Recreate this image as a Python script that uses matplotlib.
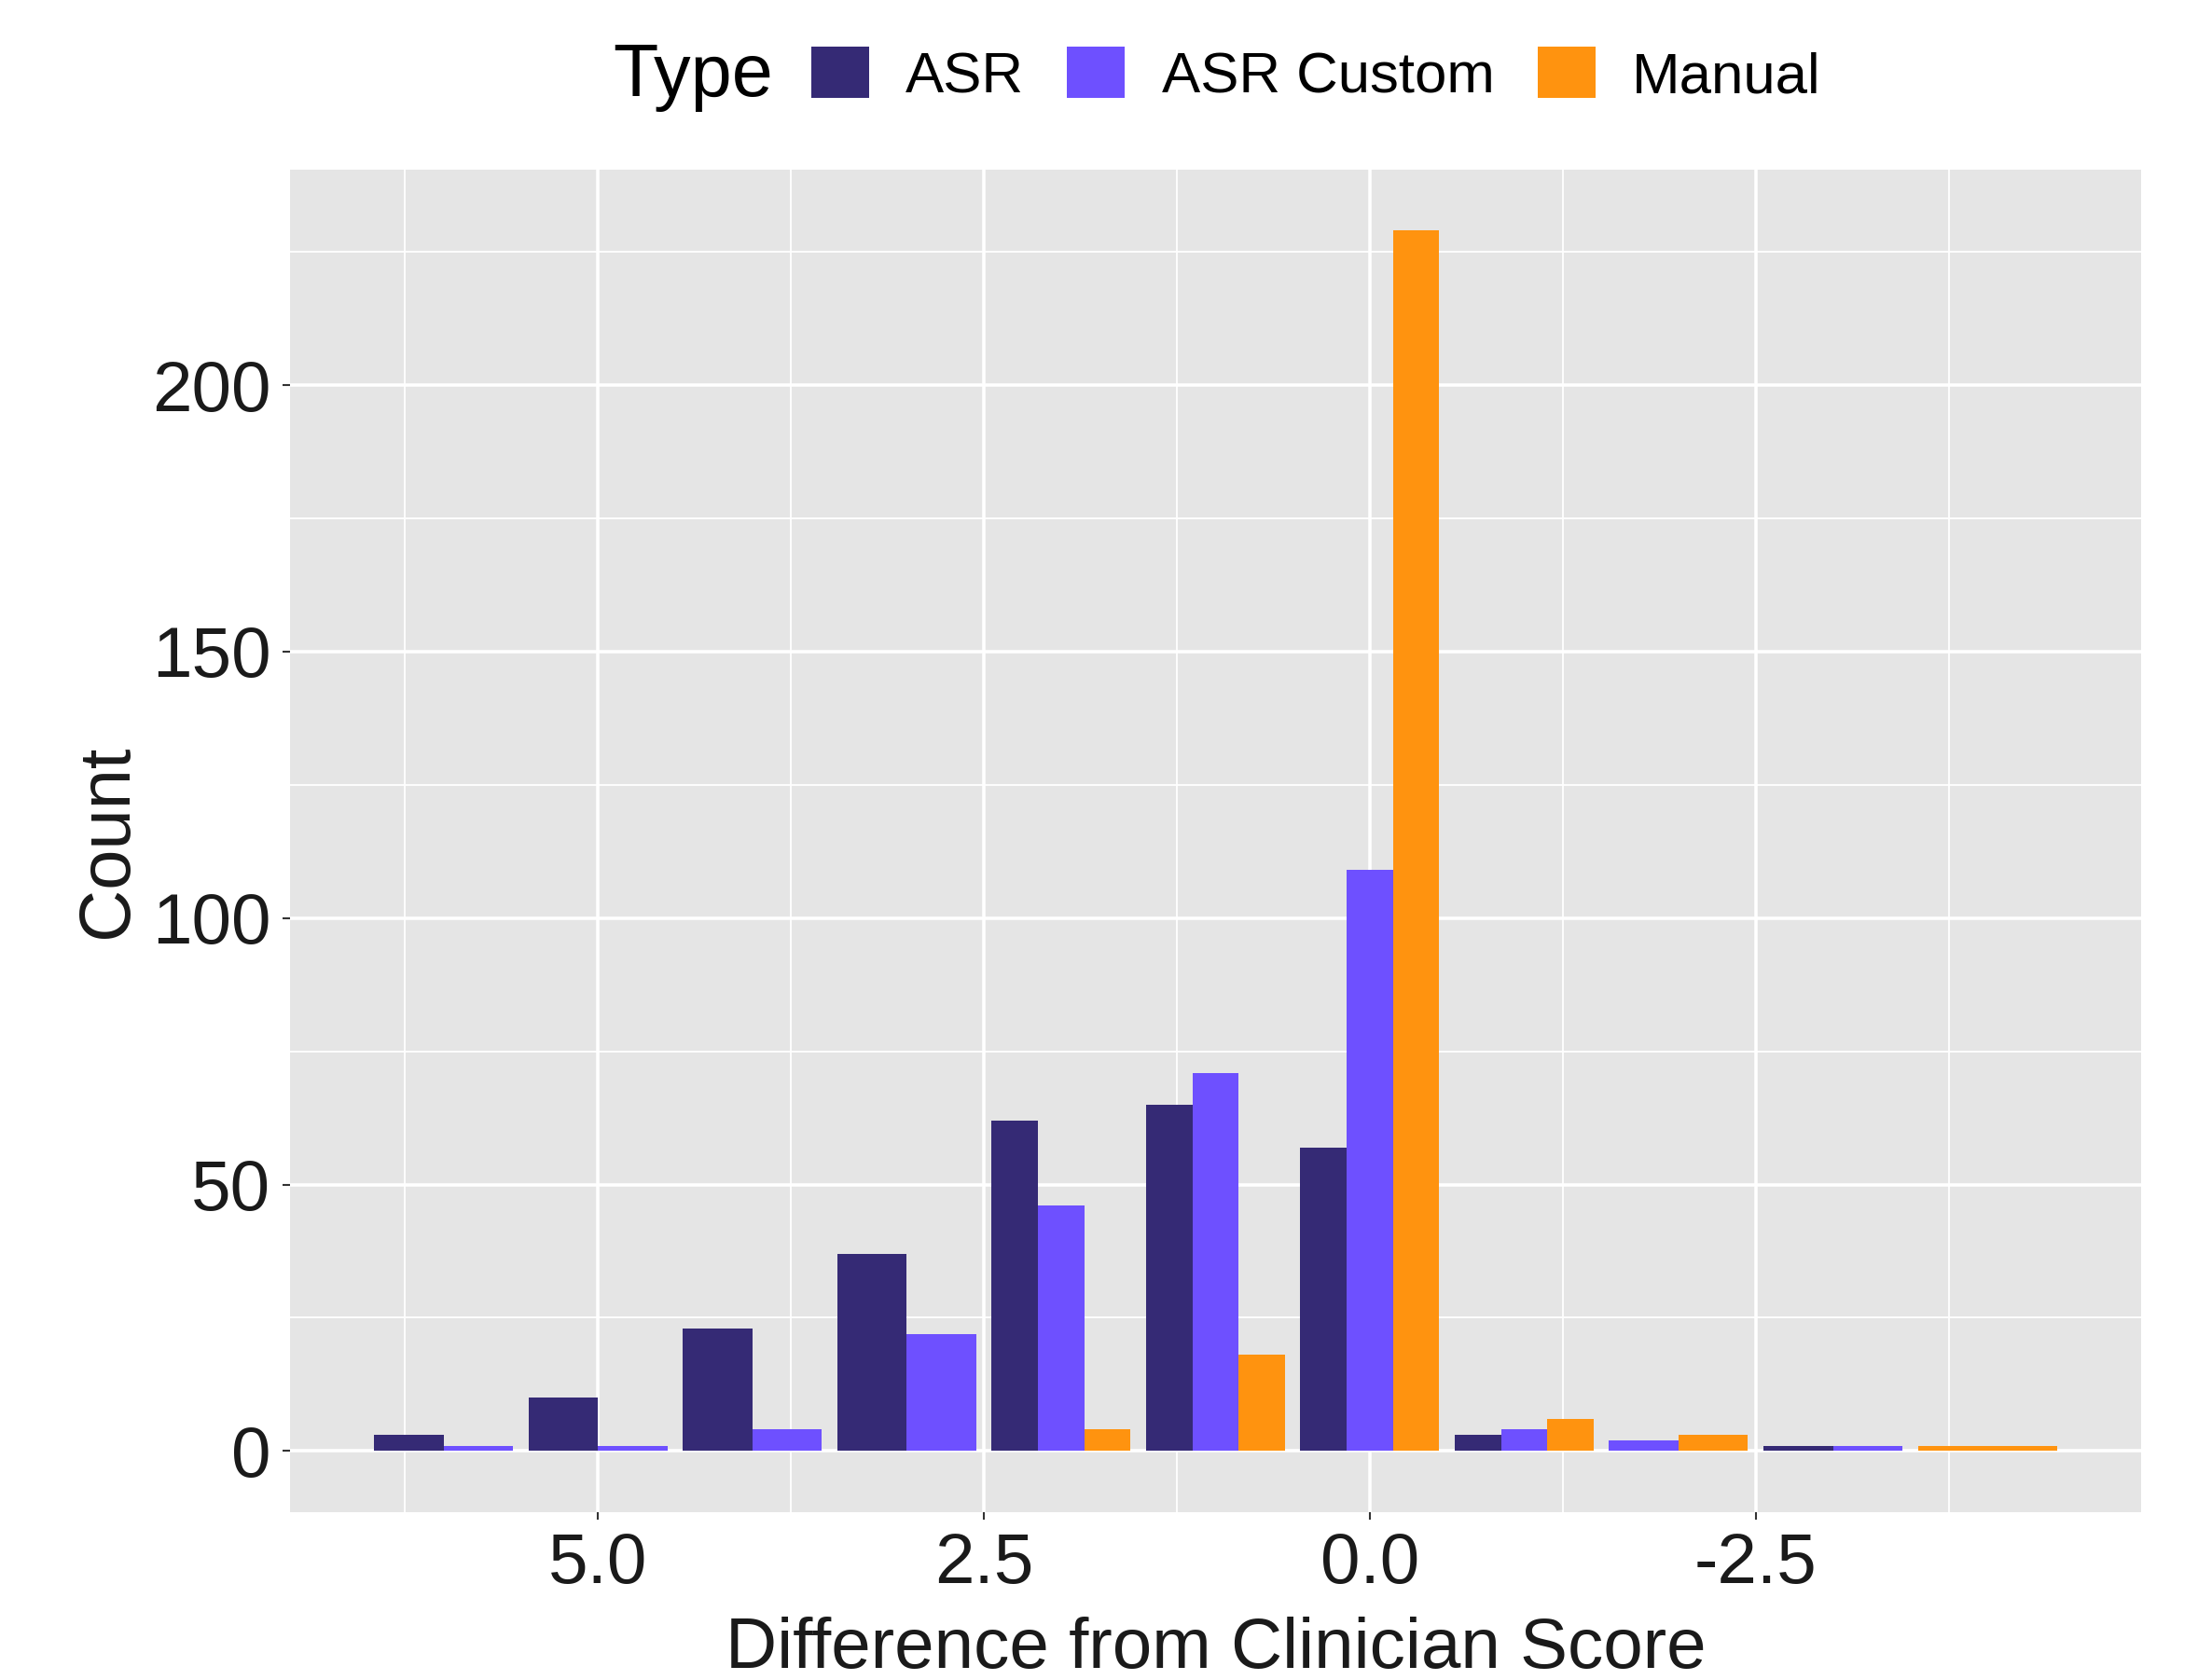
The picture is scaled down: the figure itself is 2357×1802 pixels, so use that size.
import matplotlib
matplotlib.use("Agg")
import matplotlib.pyplot as plt
from matplotlib.patches import Patch
import numpy as np

plt.rcParams['font.family'] = ['Liberation Sans', 'DejaVu Sans']

# ---- data ----
differences = [6, 5, 4, 3, 2, 1, 0, -1, -2, -3, -4]
types = ["ASR", "ASR Custom", "Manual"]
asr_counts = [3, 10, 23, 37, 62, 65, 57, 3, 0, 1, 0]
asr_custom_counts = [1, 1, 4, 22, 46, 71, 109, 4, 2, 1, 0]
manual_counts = [0, 0, 0, 0, 4, 18, 229, 6, 3, 0, 1]
colors = ["#352A75", "#6E50FF", "#FF930F"]
x_ticks = [5.0, 2.5, 0.0, -2.5]
x_tick_labels = ["5.0", "2.5", "0.0", "-2.5"]
y_ticks = [0, 50, 100, 150, 200]

fig = plt.figure(figsize=(23.57, 18.02), dpi=100)
ax = fig.add_axes([0.132, 0.100, 0.842, 0.799])
ax.set_facecolor("#E5E5E5")
for s in ax.spines.values():
    s.set_visible(False)

series = [asr_counts, asr_custom_counts, manual_counts]
total_w = 0.9
for j, xv in enumerate(differences):
    present = [k for k in range(3) if series[k][j] > 0]
    n = len(present)
    w = total_w / n
    for i, k in enumerate(present):
        # axis is reversed: leftmost on screen = largest data x
        xc = xv + total_w / 2 - (i + 0.5) * w
        ax.bar(xc, series[k][j], width=w, color=colors[k], linewidth=0, zorder=3)

ax.set_xlim(6.995, -4.995)
ax.set_ylim(-11.45, 240.45)

ax.set_xticks(x_ticks)
ax.set_xticklabels(x_tick_labels)
ax.set_yticks(y_ticks)
ax.set_xticks([6.25, 3.75, 1.25, -1.25, -3.75], minor=True)
ax.set_yticks([25, 75, 125, 175, 225], minor=True)

ax.grid(which="major", color="white", linewidth=2.6, zorder=0)
ax.grid(which="minor", color="white", linewidth=1.3, zorder=0)
ax.set_axisbelow(True)

ax.tick_params(which="major", length=6, width=1.5, color="#333333",
               labelsize=55, labelcolor="#1A1A1A", pad=9)
ax.tick_params(which="minor", length=0)

ax.set_xlabel("Difference from Clinician Score", fontsize=55, color="#1A1A1A", labelpad=15)
ax.set_ylabel("Count", fontsize=56, color="#1A1A1A", labelpad=8)

# legend on top
fig.text(0.279, 0.954, "Type", fontsize=57, color="black", va="center", ha="left")
handles = [Patch(facecolor=c, edgecolor="none") for c in colors]
leg = fig.legend(handles, types, ncol=3, loc="center left",
                 bbox_to_anchor=(0.3585, 0.955), frameon=False,
                 fontsize=44.5, handlelength=1.0, handleheight=1.0,
                 handletextpad=0.64, columnspacing=0.75, borderaxespad=0)

fig.savefig("out.png", dpi=100)
